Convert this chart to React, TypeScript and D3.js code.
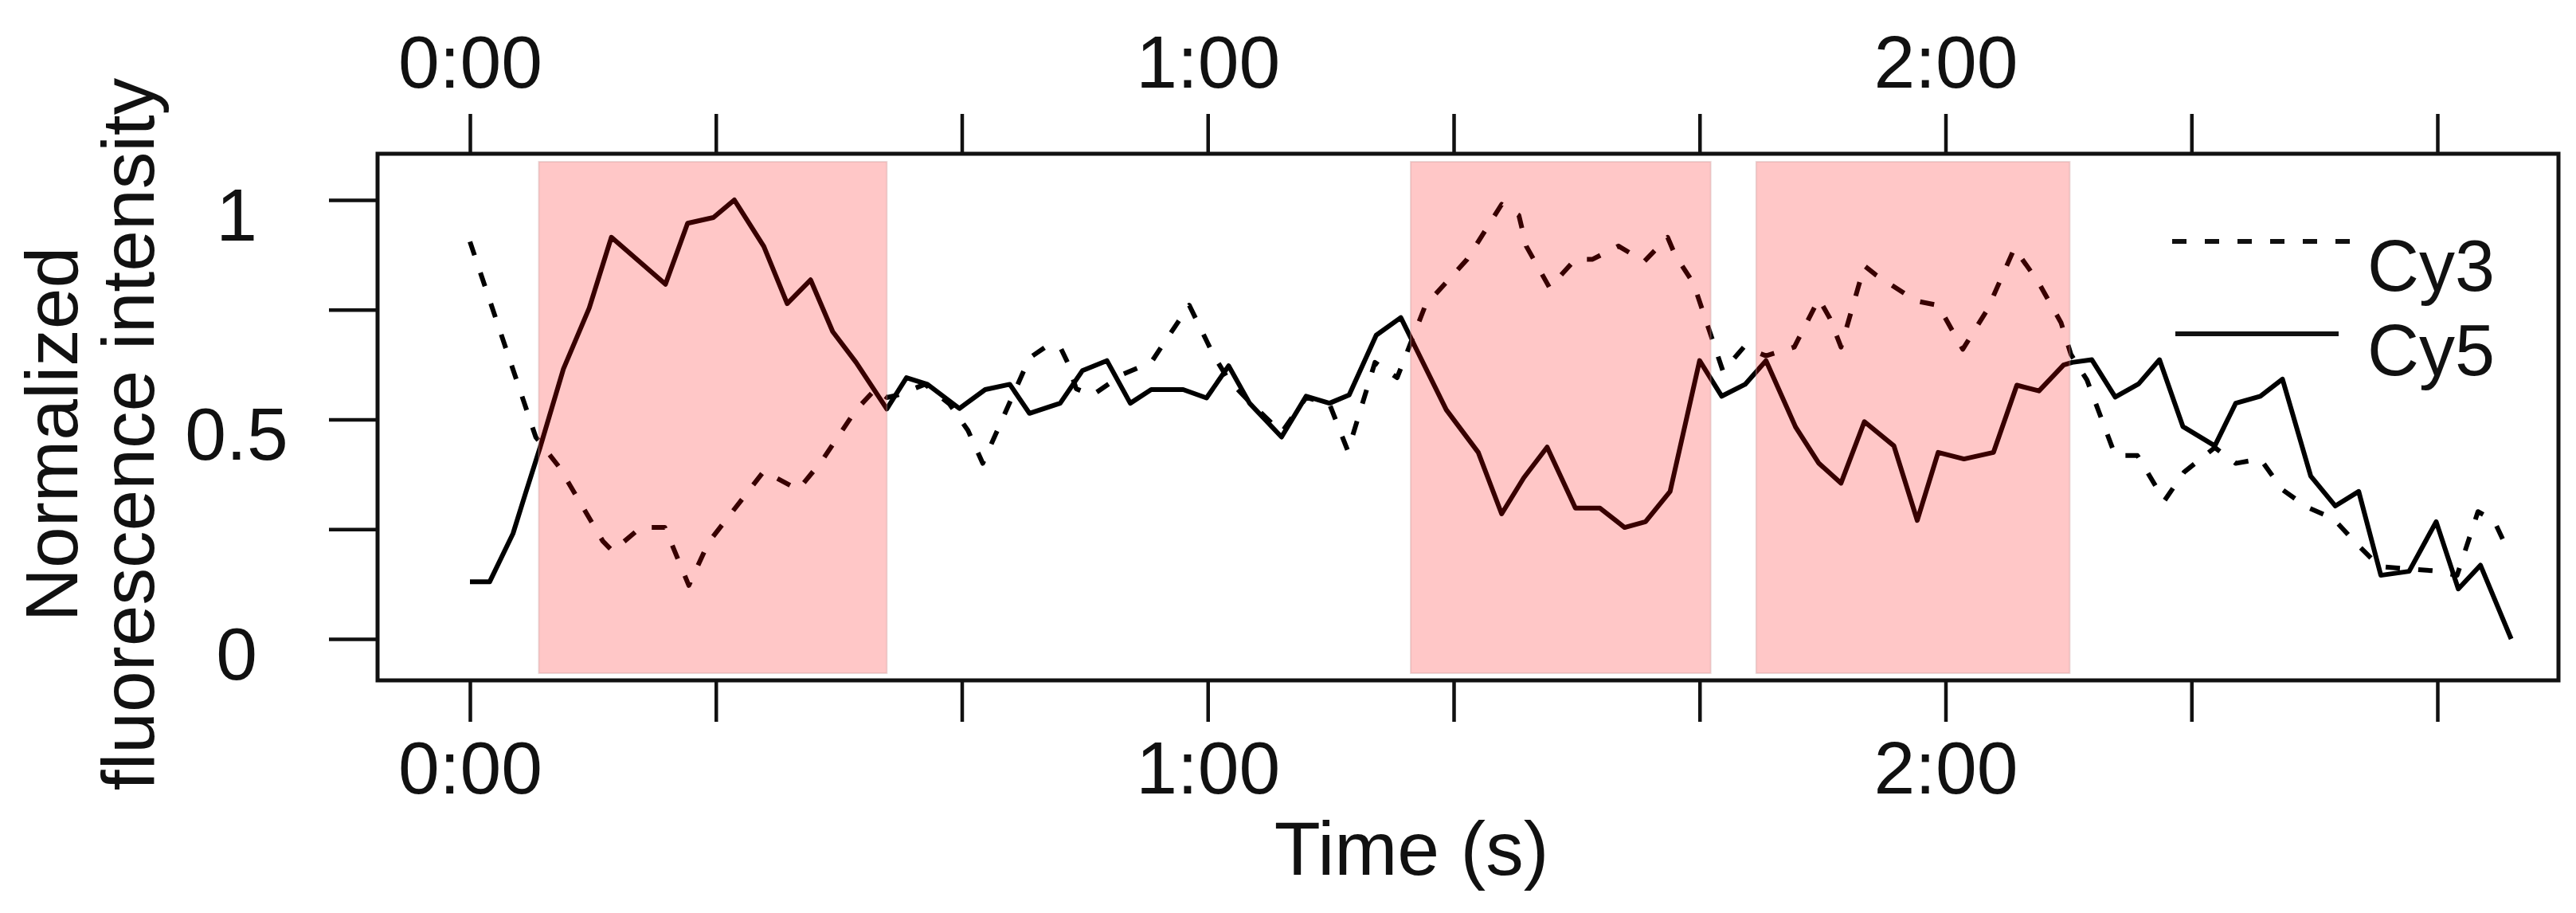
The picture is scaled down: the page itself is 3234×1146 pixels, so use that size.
import React, { useEffect, useRef } from 'react'
import * as d3 from 'd3'

// values (time in s, normalized intensity)
const cy5Time = [
  0, 1.6, 3.5, 4.5, 5.7, 7.6, 9.7, 11.5, 15.9, 17.7, 19.8, 21.5, 23.9, 25.8, 27.7, 29.5, 31.4, 33.9,
  35.5, 37.2, 39.8, 41.9, 43.9, 45.5, 48.0, 49.8, 51.8, 53.7, 55.4, 58.0, 59.9, 61.7, 63.4, 66.0, 68.0,
  69.9, 71.5, 73.7, 75.7, 79.4, 82.0, 83.9, 85.7, 87.6, 89.9, 91.9, 93.9, 95.6, 97.6, 100.0, 101.8,
  103.7, 105.4, 107.8, 109.7, 111.5, 113.4, 115.8, 117.7, 119.4, 121.5, 123.9, 125.8, 127.6, 129.6,
  130.3, 131.9, 133.8, 135.7, 137.4, 139.3, 141.9, 143.6, 145.6, 147.4, 149.7, 151.7, 153.6, 155.4,
  157.7, 159.9, 161.7, 163.5, 166.0,
]
const cy5Value = [
  0.13, 0.13, 0.24, 0.33, 0.436, 0.615, 0.754, 0.915, 0.808, 0.947, 0.96, 1.0, 0.894, 0.764, 0.818, 0.7, 0.63, 0.524,
  0.595, 0.58, 0.525, 0.568, 0.58, 0.514, 0.537, 0.611, 0.634, 0.537, 0.568, 0.568, 0.549, 0.622, 0.537, 0.46, 0.553,
  0.537, 0.556, 0.692, 0.732, 0.522, 0.425, 0.285, 0.367, 0.437, 0.298, 0.298, 0.254, 0.267, 0.336, 0.634, 0.553,
  0.58, 0.634, 0.483, 0.4, 0.355, 0.495, 0.44, 0.27, 0.425, 0.41, 0.425, 0.578, 0.565, 0.624,
  0.63, 0.636, 0.551, 0.581, 0.636, 0.484, 0.44, 0.537, 0.553, 0.592, 0.371, 0.303, 0.336, 0.145,
  0.154, 0.267, 0.114, 0.168, 0.0,
]
const cy3Time = [
  0, 5.35, 7.3, 10.8, 11.6, 13.9, 15.85, 17.8, 19.4, 23.9, 26.7, 28.6, 31.35, 33.0, 33.9,
  34.7, 37.0, 39.0, 40.5, 41.7, 45.5, 46.8, 48.0, 48.6, 49.3, 50.6, 53.1, 55.4, 56.7, 58.5, 60.5, 61.7,
  63.4, 66.0, 68.0, 69.9, 71.4, 73.6, 75.4, 77.7, 81.1, 83.9, 85.3, 85.9, 87.8, 89.9, 91.3, 93.4, 95.5,
  97.4, 98.0, 99.5, 101.9, 103.6, 105.4, 107.7, 109.7, 110.6, 111.5, 113.4, 114.3, 117.6, 119.4, 121.4,
  123.4, 125.6, 127.5, 129.4, 130.2, 131.5, 133.8, 135.6, 137.8, 139.4, 141.9, 143.6, 145.6, 147.4,
  149.4, 151.5, 153.5, 155.3, 157.5, 159.8, 161.6, 163.3, 164.6, 165.6,
]
const cy3Value = [
  0.905, 0.46, 0.39, 0.223, 0.2, 0.254, 0.254, 0.122, 0.22, 0.382, 0.34, 0.405, 0.52, 0.57, 0.55,
  0.555, 0.58, 0.535, 0.475, 0.4, 0.64, 0.665, 0.665, 0.63, 0.57, 0.555, 0.603, 0.63, 0.685, 0.76, 0.645, 0.59,
  0.54, 0.47, 0.55, 0.535, 0.428, 0.63, 0.595, 0.76, 0.865, 0.99, 0.965, 0.895, 0.8, 0.865, 0.865, 0.895, 0.86,
  0.915, 0.875, 0.81, 0.61, 0.665, 0.645, 0.665, 0.775, 0.73, 0.665, 0.85, 0.83, 0.77, 0.76, 0.66,
  0.75, 0.89, 0.815, 0.72, 0.648, 0.59, 0.418, 0.418, 0.315, 0.38, 0.436, 0.4, 0.41, 0.34,
  0.3, 0.275, 0.215, 0.165, 0.16, 0.155, 0.145, 0.29, 0.27, 0.21,
]

// shaded intervals (s)
const shadeStart = [5.6, 76.5, 104.6]
const shadeEnd = [33.9, 100.9, 130.1]

const timeTicks = [0, 20, 40, 60, 80, 100, 120, 140, 160]
const timeLabelAt = [0, 60, 120]
const timeLabels = ['0:00', '1:00', '2:00']
const yTicks = [0, 0.25, 0.5, 0.75, 1]
const yLabelAt = [0, 0.5, 1]
const yLabels = ['0', '0.5', '1']
const seriesNames = ['Cy3', 'Cy5']

const FONT = '"Liberation Sans", Arial, Helvetica, sans-serif'

const App = () => {
  const svg = useRef(null)

  useEffect(() => {
    const root = d3.select(svg.current)
    root.selectAll('*').remove()

    const frame = { left: 474, right: 3212, top: 193, bottom: 854 }
    const x = d3.scaleLinear().domain([0, 160]).range([590, 3060])
    const y = d3.scaleLinear().domain([0, 1]).range([802, 251])

    const line = d3
      .line<[number, number]>()
      .x(d => x(d[0]))
      .y(d => y(d[1]))

    const cy3 = cy3Time.map((t, i) => [t, cy3Value[i]] as [number, number])
    const cy5 = cy5Time.map((t, i) => [t, cy5Value[i]] as [number, number])

    root
      .append('path')
      .attr('d', line(cy3))
      .attr('fill', 'none')
      .attr('stroke', '#000')
      .attr('stroke-width', 6)
      .attr('stroke-dasharray', '18 23')
      .attr('stroke-linejoin', 'round')

    root
      .append('path')
      .attr('d', line(cy5))
      .attr('fill', 'none')
      .attr('stroke', '#000')
      .attr('stroke-width', 6)
      .attr('stroke-linejoin', 'round')

    // translucent red bands drawn over the traces
    root
      .selectAll('.shade')
      .data(shadeStart)
      .enter()
      .append('rect')
      .attr('class', 'shade')
      .attr('x', d => x(d))
      .attr('y', 203)
      .attr('width', (d, i) => x(shadeEnd[i]) - x(d))
      .attr('height', 845 - 203)
      .attr('fill', '#ff0000')
      .attr('fill-opacity', 0.22)
      .attr('stroke', '#c89a9a')
      .attr('stroke-opacity', 0.35)
      .attr('stroke-width', 2)

    root
      .append('rect')
      .attr('x', frame.left)
      .attr('y', frame.top)
      .attr('width', frame.right - frame.left)
      .attr('height', frame.bottom - frame.top)
      .attr('fill', 'none')
      .attr('stroke', '#111')
      .attr('stroke-width', 5)

    const timeFormat = (d: number) => {
      const k = timeLabelAt.indexOf(d)
      return k >= 0 ? timeLabels[k] : ''
    }

    const bottom = root
      .append('g')
      .attr('transform', `translate(0, ${frame.bottom})`)
      .call(d3.axisBottom(x).tickValues(timeTicks).tickSize(52).tickPadding(24).tickFormat(timeFormat))
    const top = root
      .append('g')
      .attr('transform', `translate(0, ${frame.top})`)
      .call(d3.axisTop(x).tickValues(timeTicks).tickSize(50).tickPadding(33).tickFormat(timeFormat))
    const left = root
      .append('g')
      .attr('transform', `translate(${frame.left}, 0)`)
      .call(
        d3
          .axisLeft(y)
          .tickValues(yTicks)
          .tickSize(61)
          .tickFormat(d => {
            const k = yLabelAt.indexOf(d as number)
            return k >= 0 ? yLabels[k] : ''
          })
      )

    ;[bottom, top, left].forEach(g => {
      g.select('.domain').remove()
      g.selectAll('.tick line').attr('stroke', '#111').attr('stroke-width', 4.5)
      g.selectAll('.tick text')
        .attr('fill', '#111')
        .style('font-family', FONT)
        .style('font-size', '93px')
    })
    left
      .selectAll('.tick text')
      .attr('text-anchor', 'middle')
      .attr('x', 297 - frame.left)
      .attr('dy', null)
      .attr('y', 50)

    // legend
    const legend = root.append('g')
    legend
      .append('line')
      .attr('x1', 2727)
      .attr('x2', 2952)
      .attr('y1', 303)
      .attr('y2', 303)
      .attr('stroke', '#111')
      .attr('stroke-width', 6)
      .attr('stroke-dasharray', '18 23')
    legend
      .append('line')
      .attr('x1', 2731)
      .attr('x2', 2936)
      .attr('y1', 419)
      .attr('y2', 419)
      .attr('stroke', '#111')
      .attr('stroke-width', 6)
    legend
      .selectAll('text')
      .data(seriesNames)
      .enter()
      .append('text')
      .attr('x', 2972)
      .attr('y', (d, i) => 365 + i * 106)
      .attr('fill', '#111')
      .style('font-family', FONT)
      .style('font-size', '90px')
      .text(d => d)

    root
      .append('text')
      .attr('x', 1772)
      .attr('y', 1098)
      .attr('text-anchor', 'middle')
      .attr('fill', '#111')
      .style('font-family', FONT)
      .style('font-size', '95px')
      .text('Time (s)')

    const title = ['Normalized', 'fluorescence intensity']
    root
      .selectAll('.ytitle')
      .data(title)
      .enter()
      .append('text')
      .attr('class', 'ytitle')
      .attr('transform', (d, i) => `translate(${97 + i * 96}, 545) rotate(-90)`)
      .attr('text-anchor', 'middle')
      .attr('fill', '#111')
      .style('font-family', FONT)
      .style('font-size', '93px')
      .text(d => d)
  }, [])

  return (
    <svg
      ref={svg}
      width={3234}
      height={1146}
      style={{ position: 'absolute', left: 0, top: 0, background: '#fff' }}
    ></svg>
  )
}

export default App
